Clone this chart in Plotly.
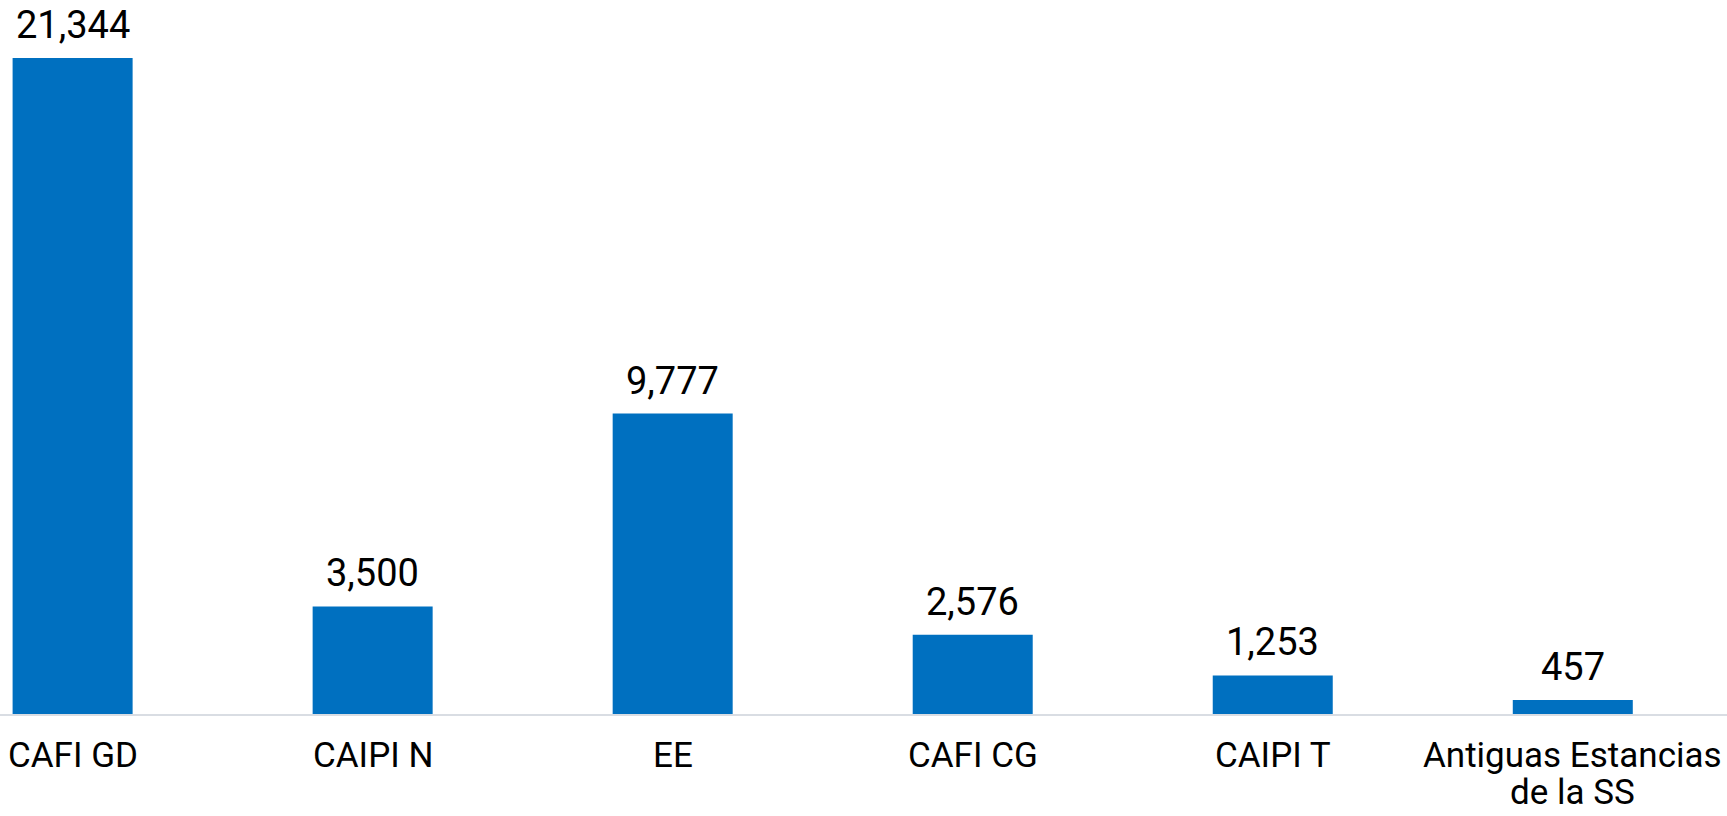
import plotly.graph_objects as go

categories = ["CAFI GD", "CAIPI N", "EE", "CAFI CG", "CAIPI T", "Antiguas Estancias<br>de la SS"]
values = [21344, 3500, 9777, 2576, 1253, 457]
labels = [f"{v:,}" for v in values]

FONT = "Roboto, Liberation Sans, Arial, sans-serif"

fig = go.Figure(go.Bar(
    x=categories, y=values, marker=dict(color="#0070C0", line=dict(width=0)),
    width=0.4, hoverinfo="skip",
))

for c, v, t in zip(categories, values, labels):
    fig.add_annotation(x=c, y=v, text=t, showarrow=False, yanchor="bottom",
                       yshift=9, font=dict(family=FONT, size=38, color="#000000"))

# category labels (drawn as annotations to control line spacing)
for c in categories:
    for i, line in enumerate(c.split("<br>")):
        fig.add_annotation(x=c, y=0, text=line, showarrow=False, yanchor="top",
                           yshift=-(20 + 37 * i), borderpad=0,
                           font=dict(family=FONT, size=35, color="#000000"))

fig.update_layout(
    width=1727, height=816,
    margin=dict(l=0, r=0, t=0, b=102),
    plot_bgcolor="white", paper_bgcolor="white",
    showlegend=False,
    font=dict(family=FONT, size=35, color="#000000"),
)
fig.update_xaxes(
    range=[-0.242, 5.514], showline=True, linecolor="#D9DDE3", linewidth=2,
    ticks="", showgrid=False, showticklabels=False, automargin=False,
)
fig.update_yaxes(range=[0, 23234], visible=False, showgrid=False, zeroline=False)

fig.write_html(
    "out.html",
    config={"displayModeBar": False},
    post_script="document.body.style.margin='0';document.body.style.overflow='hidden';",
)
